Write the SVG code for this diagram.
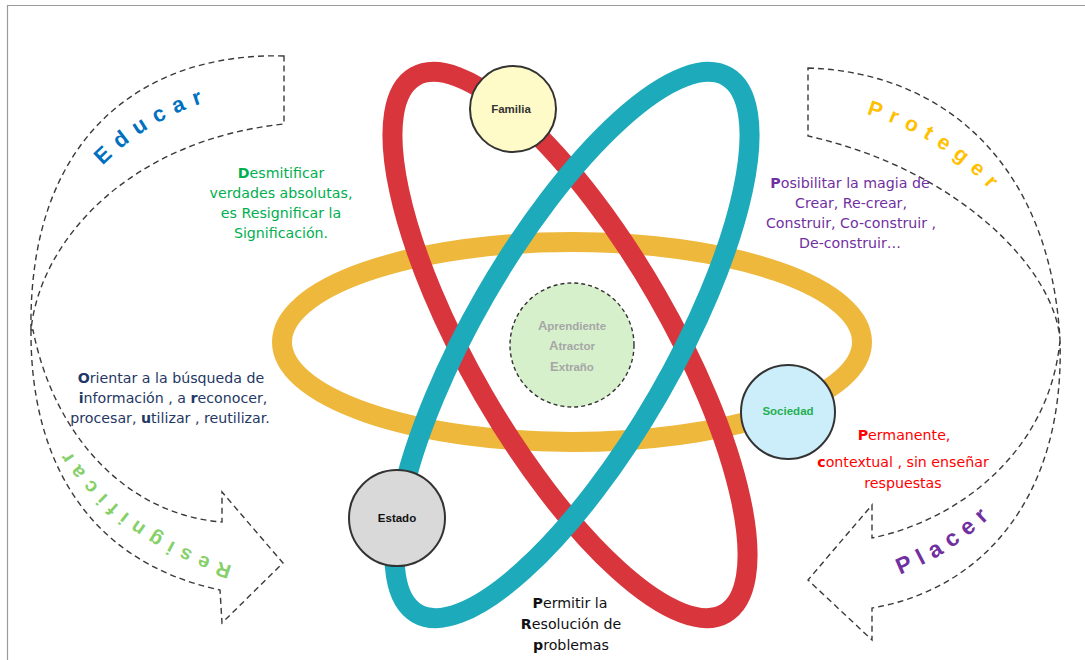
<svg xmlns="http://www.w3.org/2000/svg" width="1085" height="660" viewBox="0 0 1085 660">
<style>
.band{fill:none;stroke:#3a3a3a;stroke-width:1.4;stroke-dasharray:6 4}
.orbit{fill:none;stroke-width:20}
.node{stroke:#333;stroke-width:2}
.lbl{font-family:"Liberation Sans",Arial,sans-serif;font-weight:bold;font-size:11.5px;text-anchor:middle}
.txt{font-family:"DejaVu Sans","Liberation Sans",sans-serif;font-size:14.2px;text-anchor:middle}
.arc{font-family:"Liberation Sans",Arial,sans-serif;font-weight:bold}
.b{font-weight:bold}
</style>
<defs>
<path id="pEdu" d="M 40,320 C 43,190 145,92 290,88"/>
<path id="pPro" d="M 810,104 C 900,110 980,161 1030,241"/>
<path id="pRes" d="M 240,568 C 168,548 100,505 62,437"/>
<path id="pPla" d="M 860,586 C 920,574 985,538 1035,463"/>
</defs>
<rect x="0" y="0" width="1085" height="660" fill="#ffffff"/>
<path d="M 7.5,660 L 7.5,5.5 L 1085,5.5" fill="none" stroke="#9a9a9a" stroke-width="1.2"/>

<g id="atom">
<ellipse class="orbit" cx="572" cy="342" rx="290" ry="100" stroke="#EDB83C"/>
<ellipse class="orbit" cx="570" cy="345" rx="310" ry="100" transform="rotate(60 570 345)" stroke="#D8363C"/>
<ellipse class="orbit" cx="572" cy="345" rx="310" ry="100" transform="rotate(-60 572 345)" stroke="#1DAABB"/>
</g>

<g id="connectors">
<path id="educar-arrow" class="band" d="M 284,56 C 150,52 28,130 31,330 C 40,240 130,140 284,124 Z"/>
<path id="resignificar-arrow" class="band" d="M 31,330 C 30,450 80,560 220,590 L 222,623 L 283,563 L 222,492 L 222,522 C 130,515 55,440 33,330 Z"/>
<path id="proteger-arrow" class="band" d="M 808,68 C 940,72 1050,160 1060,340 C 1055,270 960,170 808,136 Z"/>
<path id="placer-arrow" class="band" d="M 1060,340 C 1050,450 960,520 872,538 L 872,505 L 808,580 L 872,640 L 872,608 C 980,590 1065,500 1060,340 Z"/>
</g>

<g id="arrow-labels">
<text class="arc" font-size="22" fill="#0070C0" letter-spacing="9"><textPath href="#pEdu" startOffset="62%" text-anchor="middle">Educar</textPath></text>
<text class="arc" font-size="21" fill="#FFC000" letter-spacing="8.5"><textPath href="#pPro" startOffset="50%" text-anchor="middle">Proteger</textPath></text>
<text class="arc" font-size="20" fill="#86D06A" letter-spacing="8"><textPath href="#pRes" startOffset="50%" text-anchor="middle">Resignificar</textPath></text>
<text class="arc" font-size="23" fill="#7030A0" letter-spacing="7.5"><textPath href="#pPla" startOffset="45%" text-anchor="middle">Placer</textPath></text>
</g>

<g id="node-aprendiente">
<circle cx="572" cy="345" r="62" fill="#D6F0CC" stroke="#333" stroke-width="1.4" stroke-dasharray="4 3"/>
<text class="lbl" fill="#A6A6A6" font-size="12"><tspan x="572" y="330"><tspan font-size="13">A</tspan>prendiente</tspan><tspan x="572" y="350"><tspan font-size="13">A</tspan>tractor</tspan><tspan x="572" y="371"><tspan font-size="13">E</tspan>xtraño</tspan></text>
</g>
<g id="node-familia">
<circle class="node" cx="513" cy="109" r="43" fill="#FFFBC8"/>
<text class="lbl" x="511" y="113" fill="#333333">Familia</text>
</g>
<g id="node-sociedad">
<circle class="node" cx="788" cy="412" r="47" fill="#CCEEFA"/>
<text class="lbl" x="788" y="415" fill="#1FB050">Sociedad</text>
</g>
<g id="node-estado">
<circle class="node" cx="397" cy="518" r="48" fill="#D9D9D9"/>
<text class="lbl" x="397" y="522" fill="#111111">Estado</text>
</g>

<g id="text-desmitificar" class="txt" fill="#00B050">
<text x="281" y="178"><tspan class="b">D</tspan>esmitificar</text>
<text x="281" y="198">verdades absolutas,</text>
<text x="281" y="218">es Resignificar la</text>
<text x="281" y="238">Significación.</text>
</g>
<g id="text-posibilitar" class="txt" fill="#7030A0">
<text x="850" y="188"><tspan class="b">P</tspan>osibilitar la magia de</text>
<text x="851" y="208">Crear, Re-crear,</text>
<text x="851" y="228">Construir, Co-construir ,</text>
<text x="850" y="248">De-construir…</text>
</g>
<g id="text-orientar" class="txt" fill="#1F3864">
<text x="171" y="383"><tspan class="b">O</tspan>rientar a la búsqueda de</text>
<text x="173" y="403"><tspan class="b">i</tspan>nformación , a <tspan class="b">r</tspan>econocer,</text>
<text x="170" y="423">procesar,  <tspan class="b">u</tspan>tilizar , reutilizar.</text>
</g>
<g id="text-permanente" class="txt" fill="#FF0000">
<text x="904" y="440"><tspan class="b">P</tspan>ermanente,</text>
<text x="903" y="467"><tspan class="b">c</tspan>ontextual , sin enseñar</text>
<text x="903" y="488">respuestas</text>
</g>
<g id="text-permitir" class="txt" fill="#111111">
<text x="570" y="608"><tspan class="b">P</tspan>ermitir la</text>
<text x="571" y="629"><tspan class="b">R</tspan>esolución de</text>
<text x="571" y="650"><tspan class="b">p</tspan>roblemas</text>
</g>
</svg>
